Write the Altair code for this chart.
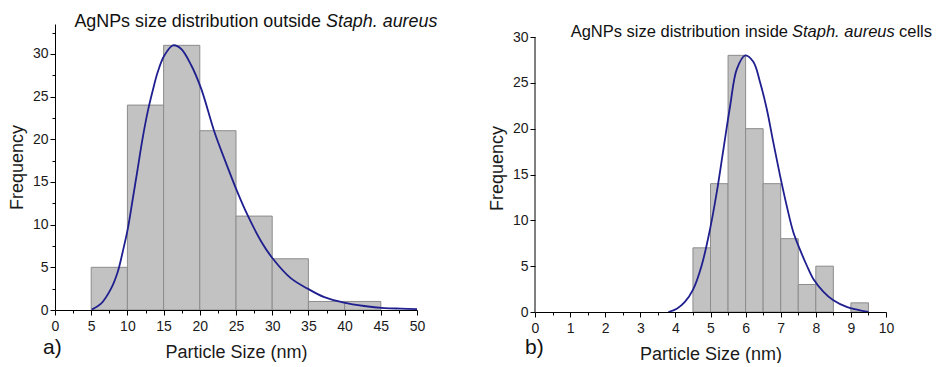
import altair as alt
import pandas as pd

FONT = "Liberation Sans"

# ---------------- data ----------------
# a) outside Staph. aureus
left_bin_start = [5, 10, 15, 20, 25, 30, 35, 40]
left_bin_end = [10, 15, 20, 25, 30, 35, 40, 45]
left_counts = [5, 24, 31, 21, 11, 6, 1, 1]

left_curve_x = [5.07, 6.36, 7.74, 8.66, 9.35, 10.05, 10.74, 11.43, 12.1, 12.8, 13.5,
                14.2, 15.1, 16.3, 17.4, 18.8, 20.2, 22.0, 23.4, 25.2, 26.6, 28.5,
                30.1, 32.6, 34.9, 37.2, 39.9, 42.7, 45.5, 47.8, 50.0]
left_curve_y = [0.05, 0.74, 2.5, 4.45, 6.8, 9.5, 13.0, 16.6, 20.1, 23.2, 25.7,
                27.9, 29.8, 31.0, 30.6, 28.7, 25.9, 20.9, 17.7, 13.8, 11.1, 8.0,
                6.0, 3.7, 2.5, 1.5, 0.86, 0.47, 0.23, 0.16, 0.1]

# b) inside Staph. aureus cells
right_bin_start = [4.5, 5.0, 5.5, 6.0, 6.5, 7.0, 7.5, 8.0, 9.0]
right_bin_end = [5.0, 5.5, 6.0, 6.5, 7.0, 7.5, 8.0, 8.5, 9.5]
right_counts = [7, 14, 28, 20, 14, 8, 3, 5, 1]

right_curve_x = [3.80, 4.04, 4.27, 4.51, 4.75, 4.99, 5.18, 5.37, 5.56, 5.75, 5.99,
                 6.22, 6.41, 6.60, 6.79, 6.98, 7.17, 7.36, 7.55, 7.74, 7.93, 8.22,
                 8.50, 8.88, 9.26, 9.50]
right_curve_y = [0.0, 0.36, 1.1, 2.5, 5.1, 9.1, 13.1, 17.8, 22.5, 26.5, 28.0,
                 27.3, 25.1, 22.2, 18.5, 14.9, 11.6, 8.7, 6.8, 5.1, 3.6, 2.2,
                 1.27, 0.55, 0.18, 0.02]

# tick values (majors labelled, minors unlabelled)
left_x_ticks = [0, 2.5, 5, 7.5, 10, 12.5, 15, 17.5, 20, 22.5, 25, 27.5, 30, 32.5,
                35, 37.5, 40, 42.5, 45, 47.5, 50]
left_y_ticks = [0, 2.5, 5, 7.5, 10, 12.5, 15, 17.5, 20, 22.5, 25, 27.5, 30, 32.5]
right_x_ticks = [0, 0.5, 1, 1.5, 2, 2.5, 3, 3.5, 4, 4.5, 5, 5.5, 6, 6.5, 7, 7.5,
                 8, 8.5, 9, 9.5, 10]
right_y_ticks = [0, 2.5, 5, 7.5, 10, 12.5, 15, 17.5, 20, 22.5, 25, 27.5, 30]

x_title = "Particle Size (nm)"
y_title = "Frequency"

BAR_FILL = "#c2c2c2"
BAR_STROKE = "#8c8c8c"
CURVE = "#1f1f8f"

W_L, H = 362, 286
W_R = 351
H_R = 288
R_YMAX = 30 * H_R / 275.0


def make_axis(ticks, step, title, tpad, lpad, domain=True):
    return alt.Axis(
        values=ticks,
        labelExpr=f"datum.value % {step} === 0 ? format(datum.value, 'd') : ''",
        tickSize={"condition": {"test": f"datum.value % {step} === 0", "value": 5}, "value": 3},
        tickColor="black",
        tickWidth=1,
        domain=domain,
        domainColor="black",
        domainWidth=1,
        grid=False,
        labelFont=FONT,
        labelFontSize=14,
        labelColor="#1a1a1a",
        labelPadding=lpad,
        labelFlush=False,
        labelOverlap=False,
        title=title,
        titleFont=FONT,
        titleFontSize=18,
        titleFontWeight="normal",
        titleColor="#1a1a1a",
        titlePadding=tpad,
        zindex=1,
    )


def text_layer(txt, x, y, size=17.5, italic=False, align="left", weight="normal"):
    return alt.Chart(alt.Data(values=[{}])).mark_text(
        text=txt, align=align, baseline="alphabetic", font=FONT, fontSize=size,
        fontStyle="italic" if italic else "normal", fontWeight=weight, color="#111111",
    ).encode(x=alt.value(x), y=alt.value(y))


def panel(bstart, bend, counts, cx, cy, xdom, ydom, xticks, yticks, xstep, w, h,
          texts, ydomain_line=True):
    bars_df = pd.DataFrame({"start": bstart, "end": bend, "count": counts})
    curve_df = pd.DataFrame({"x": cx, "y": cy})
    xsc = alt.Scale(domain=xdom, nice=False, zero=False)
    ysc = alt.Scale(domain=ydom, nice=False)
    xax = make_axis(xticks, xstep, x_title, 10, 4)
    yax = make_axis(yticks, 5, y_title, 6, 2, domain=ydomain_line)
    bars = alt.Chart(bars_df).mark_rect(
        fill=BAR_FILL, stroke=BAR_STROKE, strokeWidth=1
    ).encode(
        x=alt.X("start:Q", scale=xsc, axis=xax),
        x2="end:Q",
        y=alt.Y("count:Q", scale=ysc, axis=yax),
        y2=alt.datum(0),
    )
    curve = alt.Chart(curve_df).mark_line(
        color=CURVE, strokeWidth=1.8, interpolate="catmull-rom"
    ).encode(
        x=alt.X("x:Q", scale=xsc, axis=xax),
        y=alt.Y("y:Q", scale=ysc, axis=yax),
    )
    layers = [bars, curve]
    if not ydomain_line:
        rule = alt.Chart(alt.Data(values=[{}])).mark_rule(color="black", strokeWidth=1).encode(
            x=alt.value(0), y=alt.YDatum(0), y2=alt.Y2Datum(30)
        )
        layers.append(rule)
    layers += texts
    return alt.layer(*layers).properties(width=w, height=h)


left = panel(
    left_bin_start, left_bin_end, left_counts, left_curve_x, left_curve_y,
    [0, 50], [0, 33.5], left_x_ticks, left_y_ticks, 5, W_L, H,
    [
        text_layer("AgNPs size distribution outside", 266, 3, size=17.9, align="right"),
        text_layer("Staph. aureus", 271, 3, size=17.9, italic=True),
        text_layer("a)", -12, 330, size=21),
    ],
)

right = panel(
    right_bin_start, right_bin_end, right_counts, right_curve_x, right_curve_y,
    [0, 10], [0, R_YMAX], right_x_ticks, right_y_ticks, 1, W_R, H_R,
    [
        text_layer("AgNPs size distribution inside", 253, 13, size=16.5, align="right"),
        text_layer("Staph. aureus", 257, 13, size=16.5, italic=True),
        text_layer("cells", 364, 13, size=16.5),
        text_layer("b)", -10, 330, size=21),
    ],
    ydomain_line=False,
)

chart = alt.hconcat(left, right, spacing=50).properties(
    padding={"left": 0, "top": 5, "right": 0, "bottom": 0}
).configure_view(stroke=None)

chart.save("out.html", embed_options={"renderer": "svg", "actions": False})
